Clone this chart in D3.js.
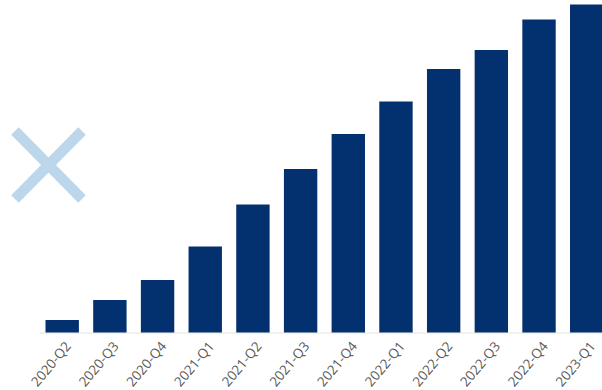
<!DOCTYPE html>
<html>
<head>
<meta charset="utf-8">
<script src="https://cdn.jsdelivr.net/npm/d3@7"></script>
<style>
  html, body { margin: 0; padding: 0; background: #fff; }
  svg { display: block; }
</style>
</head>
<body>
<svg id="chart" width="602" height="390"></svg>
<script>
// Quarterly series
const quarters = ["2020-Q2", "2020-Q3", "2020-Q4", "2021-Q1", "2021-Q2", "2021-Q3",
                  "2021-Q4", "2022-Q1", "2022-Q2", "2022-Q3", "2022-Q4", "2023-Q1"];
const values = [12.5, 32.5, 52.5, 86, 128, 163.5, 198.5, 231, 263.5, 282.5, 313, 328];

const svg = d3.select("#chart");
const W = 602, H = 390;
const baseY = 332.5;

const x = d3.scaleBand()
  .domain(quarters)
  .range([31.2, 617.7])
  .paddingInner(0.3)
  .paddingOuter(0.3);

const y = d3.scaleLinear()
  .domain([0, 330])
  .range([baseY, 2.5]);

// baseline
svg.append("line")
  .attr("x1", 40).attr("x2", W)
  .attr("y1", baseY + 0.5).attr("y2", baseY + 0.5)
  .attr("stroke", "#e3e3e3").attr("stroke-width", 1);

// bars
svg.append("g").selectAll("rect")
  .data(values)
  .join("rect")
  .attr("x", (d, i) => x(quarters[i]))
  .attr("width", x.bandwidth())
  .attr("y", d => y(d))
  .attr("height", d => y(0) - y(d))
  .attr("fill", "#03306e");

// category axis
const axis = svg.append("g")
  .attr("transform", `translate(0,${baseY})`)
  .call(d3.axisBottom(x).tickSize(0).tickPadding(0));
axis.select(".domain").remove();
axis.selectAll("text")
  .attr("font-family", "'Open Sans', 'Noto Sans', sans-serif")
  .attr("font-size", 13.5)
  .attr("fill", "#595959")
  .attr("text-anchor", "end")
  .attr("dy", "0.35em")
  .attr("transform", "translate(6,11) rotate(-50)");

// cross marker on the left
const cross = svg.append("g")
  .attr("stroke", "#bcd6ec")
  .attr("stroke-width", 10.5)
  .attr("stroke-linecap", "butt");
cross.append("line").attr("x1", 15).attr("y1", 131).attr("x2", 82).attr("y2", 199);
cross.append("line").attr("x1", 82).attr("y1", 131).attr("x2", 15).attr("y2", 199);
</script>
</body>
</html>
